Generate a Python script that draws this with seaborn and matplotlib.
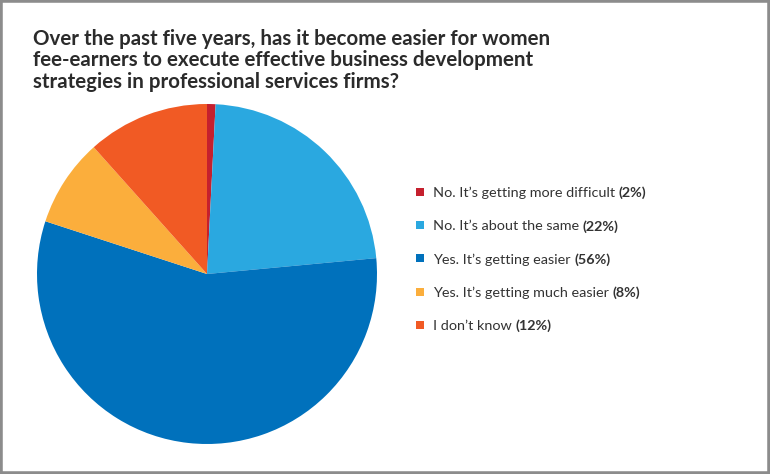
import matplotlib
matplotlib.use("Agg")
import matplotlib.pyplot as plt
import seaborn as sns
from matplotlib.patches import Rectangle

sns.set_theme(style="white")
plt.rcParams['font.family'] = ['Lato', 'DejaVu Sans']

# Data
categories = ["No. It\u2019s getting more difficult",
              "No. It\u2019s about the same",
              "Yes. It\u2019s getting easier",
              "Yes. It\u2019s getting much easier",
              "I don\u2019t know"]
pct_labels = [2, 22, 56, 8, 12]
slice_shares = [0.8, 22.5, 56, 8.3, 11.5]  # as drawn in the picture
colors = ["#C5202E", "#2AA8E0", "#0071BC", "#FBAE3C", "#F15A24"]
title_lines = ["Over the past five years, has it become easier for women",
               "fee-earners to execute effective business development",
               "strategies in professional services firms?"]

W, H = 770, 474
fig = plt.figure(figsize=(W / 100, H / 100), dpi=100)
fig.patch.set_facecolor("white")

# pie axes: centre (207, 274) px, radius 170 px
cx, cy, r = 207, 274, 170
ax = fig.add_axes([(cx - r) / W, (H - cy - r) / H, 2 * r / W, 2 * r / H])
ax.pie(slice_shares, colors=colors, startangle=90, counterclock=False,
       radius=1, wedgeprops=dict(linewidth=0))
ax.set_xlim(-1, 1)
ax.set_ylim(-1, 1)
ax.set_aspect("equal")
ax.axis("off")

# title
for i, line in enumerate(title_lines):
    fig.text(33 / W, 1 - (37 + i * 21.4) / H, line, ha="left", va="center_baseline",
             fontsize=14.8, fontweight="bold", color="#2b2b2b")

# legend
fig.canvas.draw()
renderer = fig.canvas.get_renderer()
y0, dy = 192, 33.2
for i, (cat, p, c) in enumerate(zip(categories, pct_labels, colors)):
    y = y0 + i * dy
    sq = 8
    fig.patches.append(Rectangle(((419.5 - sq / 2) / W, 1 - (y + sq / 2) / H), sq / W, sq / H,
                                 transform=fig.transFigure, facecolor=c, edgecolor="none"))
    t = fig.text(433 / W, 1 - y / H, cat + " ", ha="left", va="center_baseline",
                 fontsize=10.4, color="#333333")
    bb = t.get_window_extent(renderer=renderer)
    fig.text(bb.x1 / W, 1 - y / H, f"({p}%)", ha="left", va="center_baseline",
             fontsize=10.4, fontweight="bold", color="#333333")

# frame
fig.patches.append(Rectangle((0, 0), 1, 1, transform=fig.transFigure, fill=False,
                             edgecolor="#8c8c8c", linewidth=4))

fig.savefig("out.png", dpi=100)
